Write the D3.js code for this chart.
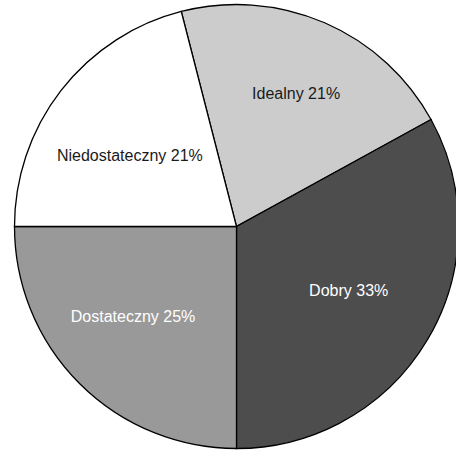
<!DOCTYPE html>
<html>
<head>
<meta charset="utf-8">
<script src="https://cdn.jsdelivr.net/npm/d3@7"></script>
<style>
  body { margin: 0; background: #fff; }
  text { font-family: "Liberation Sans", Arial, sans-serif; font-size: 16px; }
</style>
</head>
<body>
<svg id="pie" width="456" height="453"></svg>
<script>
 // Ocena - pie chart
 let categories = ["Idealny", "Dobry", "Dostateczny", "Niedostateczny"];
 let values = [21, 33, 25, 21];
 let fills = ["#cccccc", "#4d4d4d", "#999999", "#ffffff"];
 let textColors = ["#1a1a1a", "#ffffff", "#ffffff", "#1a1a1a"];
 // small nudges of each label away from the slice centroid (px)
 let labelNudge = [[6, -9], [-4, -5], [-8, -6], [0, 12]];

 let svg = d3.select("svg#pie");
 let cx = 236.5, cy = 226.5, radius = 222;

 let chartArea = svg.append("g").attr("transform", `translate(${cx},${cy})`);

 let startAngle = -14.4 * Math.PI / 180;
 let pie = d3.pie().sort(null).value(d => d.value)
             .startAngle(startAngle).endAngle(startAngle + 2 * Math.PI);

 let data = categories.map((c, i) => ({name: c, value: values[i], i: i}));

 let arc = d3.arc().innerRadius(0).outerRadius(radius);
 let labelArc = d3.arc().innerRadius(135).outerRadius(135);

 chartArea.selectAll("path")
          .data(pie(data))
          .join("path")
          .attr("d", arc)
          .attr("fill", d => fills[d.data.i])
          .attr("stroke", "#000")
          .attr("stroke-width", 1.3);

 chartArea.selectAll("text")
          .data(pie(data))
          .join("text")
          .attr("x", d => labelArc.centroid(d)[0] + labelNudge[d.data.i][0])
          .attr("y", d => labelArc.centroid(d)[1] + labelNudge[d.data.i][1])
          .attr("text-anchor", "middle")
          .attr("dy", "0.35em")
          .attr("fill", d => textColors[d.data.i])
          .text(d => `${d.data.name} ${d.data.value}%`);
</script>
</body>
</html>
